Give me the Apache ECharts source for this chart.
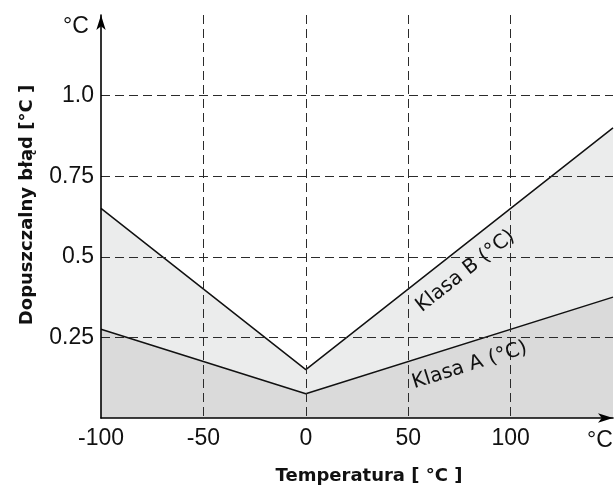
<!DOCTYPE html>
<html>
<head>
<meta charset="utf-8">
<script src="https://cdn.jsdelivr.net/npm/echarts@6/dist/echarts.min.js"></script>
<style>
html,body{margin:0;padding:0;background:#fff;}
#chart{width:616px;height:490px;}
</style>
</head>
<body>
<div id="chart"></div>
<script>
// Data
var temperatures = [-100, 0, 150];
var classA = [0.275, 0.075, 0.375];
var classB = [0.65, 0.15, 0.9];
var xTickValues = [-100, -50, 0, 50, 100];
var xTickLabels = ['-100', '-50', '0', '50', '100'];
var yTickValues = [0.25, 0.5, 0.75, 1.0];
var yTickLabels = ['0.25', '0.5', '0.75', '1.0'];

function pairs(xs, ys) { return xs.map(function (x, i) { return [x, ys[i]]; }); }

var chart = echarts.init(document.getElementById('chart'), null, {renderer: 'canvas'});
var tickFont = '"Liberation Sans", Arial, sans-serif';
var titleFont = '"DejaVu Sans", "Open Sans", sans-serif';
var labelFont = '"DejaVu Sans", Lato, sans-serif';
var dash = {color: '#2b2b2b', width: 1, type: [9, 5]};

var option = {
  animation: false,
  backgroundColor: '#fff',
  grid: {left: 101, right: 0, top: 15, bottom: 72, containLabel: false},
  xAxis: {
    type: 'value', min: -100, max: 150, interval: 50, z: 5,
    axisLine: {show: true, onZero: false, symbol: ['none', 'arrow'], symbolSize: [7, 15], lineStyle: {color: '#000', width: 1.6}},
    axisTick: {show: false},
    axisLabel: {
      color: '#111', fontFamily: tickFont, fontSize: 23, margin: 9,
      formatter: function (v) { var i = xTickValues.indexOf(v); return i >= 0 ? xTickLabels[i] : ''; }
    },
    splitLine: {show: true, showMinLine: false, showMaxLine: false, lineStyle: dash}
  },
  yAxis: {
    type: 'value', min: 0, max: 1.25, interval: 0.25, z: 5,
    axisLine: {show: true, onZero: false, symbol: ['none', 'arrow'], symbolSize: [7, 15], lineStyle: {color: '#000', width: 1.6}},
    axisTick: {show: false},
    axisLabel: {
      color: '#111', fontFamily: tickFont, fontSize: 23, margin: 7,
      formatter: function (v) { var i = yTickValues.indexOf(v); return i >= 0 ? yTickLabels[i] : ''; }
    },
    splitLine: {show: true, showMinLine: false, showMaxLine: false, lineStyle: dash}
  },
  series: [
    {
      name: 'Klasa B (°C)', type: 'line', data: pairs(temperatures, classB),
      symbol: 'none', z: 1,
      lineStyle: {color: '#111', width: 1.5},
      areaStyle: {color: '#ebecec', opacity: 1}
    },
    {
      name: 'Klasa A (°C)', type: 'line', data: pairs(temperatures, classA),
      symbol: 'none', z: 2,
      lineStyle: {color: '#111', width: 1.5},
      areaStyle: {color: '#dadada', opacity: 1}
    }
  ]
};
chart.setOption(option);

// Rotated series labels placed via the chart's own scale
function slopeAngle(x0, y0, x1, y1) {
  var p0 = chart.convertToPixel({gridIndex: 0}, [x0, y0]);
  var p1 = chart.convertToPixel({gridIndex: 0}, [x1, y1]);
  return Math.atan2(p0[1] - p1[1], p1[0] - p0[0]);
}
var pB = chart.convertToPixel({gridIndex: 0}, [78, 0.455]);
var pA = chart.convertToPixel({gridIndex: 0}, [80, 0.163]);
var angB = slopeAngle(0, classB[1], 150, classB[2]);
var angA = slopeAngle(0, classA[1], 150, classA[2]);

chart.setOption({
  graphic: [
    {type: 'text', x: pB[0], y: pB[1], rotation: angB, z: 100,
     style: {text: 'Klasa B (°C)', fill: '#111', font: '20px ' + labelFont, textAlign: 'center', textVerticalAlign: 'middle'}},
    {type: 'text', x: pA[0], y: pA[1], rotation: angA, z: 100,
     style: {text: 'Klasa A (°C)', fill: '#111', font: '20px ' + labelFont, textAlign: 'center', textVerticalAlign: 'middle'}},
    {type: 'text', x: 76, y: 27, z: 100,
     style: {text: '°C', fill: '#111', font: '23px ' + tickFont, textAlign: 'center', textVerticalAlign: 'middle'}},
    {type: 'text', x: 600, y: 441, z: 100,
     style: {text: '°C', fill: '#111', font: '23px ' + tickFont, textAlign: 'center', textVerticalAlign: 'middle'}},
    {type: 'text', x: 369, y: 476, z: 100,
     style: {text: 'Temperatura [ °C ]', fill: '#111', font: 'bold 18px ' + titleFont, textAlign: 'center', textVerticalAlign: 'middle'}},
    {type: 'text', x: 27, y: 205, rotation: Math.PI / 2, z: 100,
     style: {text: 'Dopuszczalny błąd [°C ]', fill: '#111', font: 'bold 18px ' + titleFont, textAlign: 'center', textVerticalAlign: 'middle'}}
  ]
});
</script>
</body>
</html>
